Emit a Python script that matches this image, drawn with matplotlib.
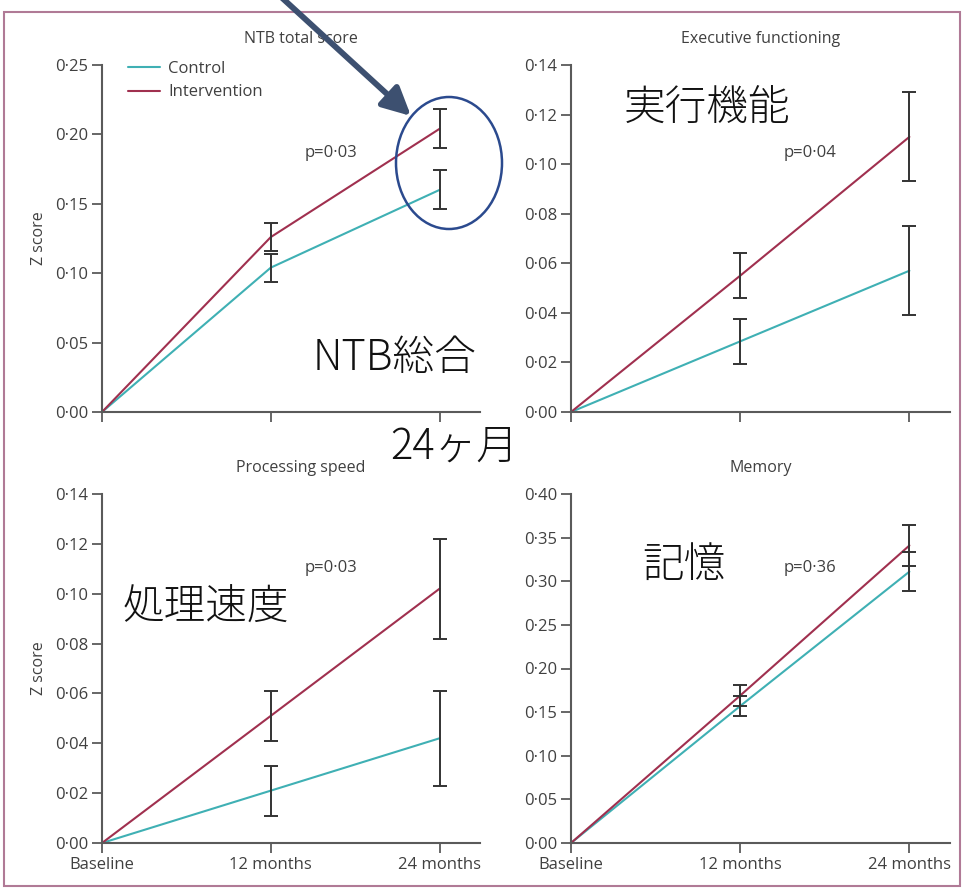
import matplotlib
matplotlib.use("Agg")
import matplotlib.pyplot as plt
from matplotlib.patches import Rectangle, Ellipse, FancyArrowPatch
from matplotlib.ticker import FuncFormatter
import numpy as np

plt.rcParams['font.family'] = ['Open Sans', 'DejaVu Sans']

# ---- data ----
timepoints = ["Baseline", "12 months", "24 months"]
panel_titles = ["NTB total score", "Executive functioning", "Processing speed", "Memory"]
p_values = ["p=0·03", "p=0·04", "p=0·03", "p=0·36"]
jp_labels = ["NTB総合", "実行機能", "処理速度", "記憶"]

ntb_control = [0.0, 0.104, 0.160]
ntb_control_err = [0.0, 0.010, 0.014]
ntb_intervention = [0.0, 0.126, 0.204]
ntb_intervention_err = [0.0, 0.010, 0.014]

exe_control = [0.0, 0.0285, 0.057]
exe_control_err = [0.0, 0.009, 0.018]
exe_intervention = [0.0, 0.055, 0.111]
exe_intervention_err = [0.0, 0.009, 0.018]

proc_control = [0.0, 0.021, 0.042]
proc_control_err = [0.0, 0.010, 0.019]
proc_intervention = [0.0, 0.051, 0.102]
proc_intervention_err = [0.0, 0.010, 0.020]

mem_control = [0.0, 0.157, 0.311]
mem_control_err = [0.0, 0.012, 0.022]
mem_intervention = [0.0, 0.169, 0.341]
mem_intervention_err = [0.0, 0.012, 0.024]

y_ticks = [np.arange(0, 0.251, 0.05), np.arange(0, 0.141, 0.02),
           np.arange(0, 0.141, 0.02), np.arange(0, 0.401, 0.05)]

# ---- styling ----
C_CONTROL = "#3fb0b4"
C_INTERV = "#a0304f"
C_AXIS = "#5a5a5a"
C_TEXT = "#404040"
C_ERR = "#333333"

W, H = 967, 890
fig = plt.figure(figsize=(W / 100, H / 100), dpi=100)


def fx(px):
    return px / W


def fy(py):
    return 1 - py / H


# axes boxes in pixel terms: (left, top, right, bottom)
boxes = [(102, 65, 480, 412), (571, 65, 950, 412),
         (102, 494, 480, 843), (571, 494, 950, 843)]

series = [
    (ntb_control, ntb_control_err, ntb_intervention, ntb_intervention_err),
    (exe_control, exe_control_err, exe_intervention, exe_intervention_err),
    (proc_control, proc_control_err, proc_intervention, proc_intervention_err),
    (mem_control, mem_control_err, mem_intervention, mem_intervention_err),
]

fmt = FuncFormatter(lambda v, pos: f"{v:.2f}".replace(".", "·"))
x = np.arange(len(timepoints))

for i, (box, (c, ce, iv, ive)) in enumerate(zip(boxes, series)):
    l, t, r, b = box
    ax = fig.add_axes([fx(l), fy(b), fx(r - l), (b - t) / H])
    ax.set_facecolor("none")
    ax.plot(x, c, color=C_CONTROL, lw=1.5, label="Control", solid_capstyle="round")
    ax.plot(x, iv, color=C_INTERV, lw=1.5, label="Intervention", solid_capstyle="round")
    ax.errorbar(x[1:], c[1:], yerr=ce[1:], fmt="none", ecolor=C_ERR,
                elinewidth=1.4, capsize=5, capthick=1.4, zorder=5)
    ax.errorbar(x[1:], iv[1:], yerr=ive[1:], fmt="none", ecolor=C_ERR,
                elinewidth=1.4, capsize=5, capthick=1.4, zorder=5)

    yt = y_ticks[i]
    ax.set_ylim(0, yt[-1])
    ax.set_xlim(0, 2.24)
    ax.set_yticks(yt)
    ax.yaxis.set_major_formatter(fmt)
    ax.set_xticks(x)
    if i >= 2:
        ax.set_xticklabels(timepoints)
    else:
        ax.set_xticklabels([])

    for s in ("top", "right"):
        ax.spines[s].set_visible(False)
    for s in ("left", "bottom"):
        ax.spines[s].set_color(C_AXIS)
        ax.spines[s].set_linewidth(1.5)
    ax.spines["left"].set_bounds(0, yt[-1])
    ax.tick_params(axis="both", direction="out", length=7, width=1.3,
                   color=C_AXIS, labelcolor=C_TEXT, labelsize=12, pad=3)
    ax.tick_params(axis="x", pad=3)

    title_x = 0.526 if i % 2 == 0 else 0.5
    ax.set_title(panel_titles[i], fontsize=11.5, color=C_TEXT, pad=16, x=title_x)

    if i % 2 == 0:
        ax.set_ylabel("Z score", fontsize=11.5, color=C_TEXT, labelpad=6)

    py = 0.746 if i < 2 else 0.788
    px = 0.537 if i % 2 == 0 else 0.562
    ax.text(px, py, p_values[i], transform=ax.transAxes, fontsize=12,
            color=C_TEXT, ha="left", va="center")

    if i == 0:
        ax.legend(loc="upper left", bbox_to_anchor=(0.03, 1.055), frameon=False,
                  fontsize=12, handlelength=1.9, handletextpad=0.5,
                  labelspacing=0.45, labelcolor=C_TEXT)

# Japanese overlay labels
jp_font = ['Noto Sans CJK JP', 'DejaVu Sans']
jp_pos = [(313, 358), (624, 108), (123, 608), (642, 565)]
for lab, (px, py) in zip(jp_labels, jp_pos):
    fig.text(fx(px), fy(py), lab, fontsize=30, family=jp_font, weight="light",
             ha="left", va="center", color="#111111")
fig.text(fx(390), fy(447), "24ヶ月", fontsize=30, family=jp_font, weight="light",
         ha="left", va="center", color="#111111")

# outer frame
fig.patches.append(Rectangle((fx(4), fy(886)), fx(956), 874 / H,
                             transform=fig.transFigure, fill=False,
                             edgecolor="#b07a96", lw=1.5, zorder=0))

# highlight ellipse around 24-month NTB bars
fig.patches.append(Ellipse((fx(449), fy(163)), fx(106), 132 / H,
                           transform=fig.transFigure, fill=False,
                           edgecolor="#2b4a8e", lw=1.8, zorder=10))

# pointer arrow
fig.patches.append(FancyArrowPatch((fx(280), fy(-4)), (fx(411), fy(116)),
                                   transform=fig.transFigure,
                                   arrowstyle="-|>,head_length=17,head_width=8.5",
                                   mutation_scale=1, lw=4.2, shrinkA=0, shrinkB=0,
                                   color="#3d5070", zorder=10))

fig.savefig("out.png", dpi=100)
